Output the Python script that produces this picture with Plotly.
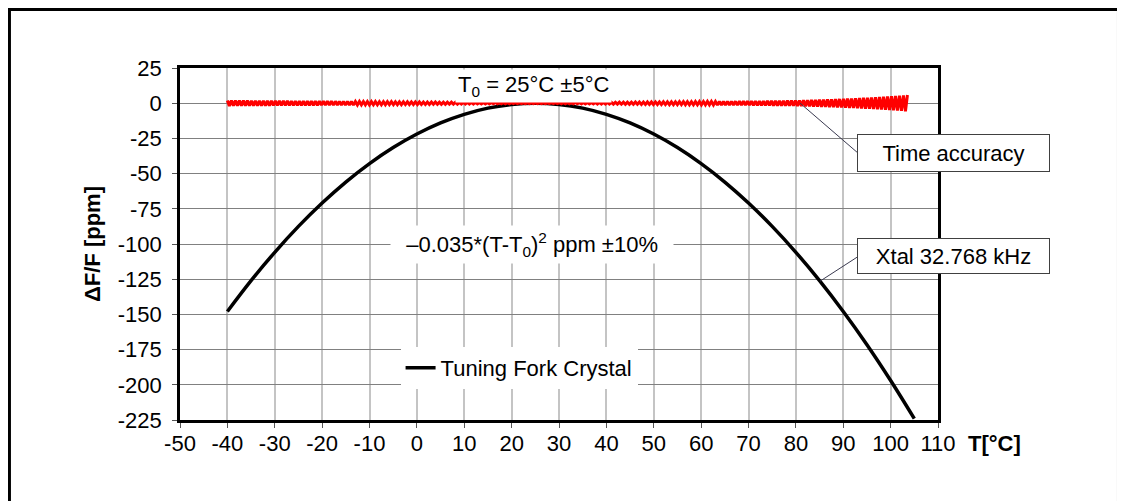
import numpy as np
import plotly.graph_objects as go

# ---------------- data ----------------
# Tuning fork crystal curve, T in °C, dF/F in ppm
curve_T = [-40, -35, -30, -25, -20, -15, -10, -5, 0, 5, 10, 15, 20, 25,
           30, 35, 40, 45, 50, 55, 60, 65, 70, 75, 80, 85, 90, 95, 100, 105]
curve_ppm = [-147.9, -126.0, -105.9, -87.5, -70.9, -56.0, -42.9, -31.5, -21.9, -14.0,
             -7.9, -3.5, -0.9, 0.0, -0.9, -3.5, -7.9, -14.0, -21.9, -31.5,
             -42.9, -56.0, -70.9, -87.5, -105.9, -126.0, -147.9, -171.5, -196.9, -224.0]

# Time-accuracy band (red zig-zag) : envelope amplitude
band_T = [-40, -20, 0, 20, 25, 30, 50, 70, 80, 85, 90, 95, 100, 103.5]
band_amp = [1.9, 1.4, 0.9, 0.35, 0.25, 0.35, 0.9, 1.4, 1.9, 2.5, 3.1, 3.9, 4.9, 5.8]
band_half_period = 0.4222   # °C between successive zig-zag extremes

x_tickvals = [-50, -40, -30, -20, -10, 0, 10, 20, 30, 40, 50, 60, 70, 80, 90, 100, 110]
x_ticktext = ["-50", "-40", "-30", "-20", "-10", "0", "10", "20", "30", "40",
              "50", "60", "70", "80", "90", "100", "110"]
y_tickvals = [25, 0, -25, -50, -75, -100, -125, -150, -175, -200, -225]
y_ticktext = ["25", "0", "-25", "-50", "-75", "-100", "-125", "-150", "-175", "-200", "-225"]

# ---------------- build zig-zag ----------------
n_pts = int(round((band_T[-1] - band_T[0]) / band_half_period)) + 1
zig_T = np.array([band_T[0] + k * band_half_period for k in range(n_pts)])
zig_amp = np.interp(zig_T, band_T, band_amp)
zig_sign = np.array([1 if k % 2 == 0 else -1 for k in range(n_pts)])
zig_ppm = zig_sign * zig_amp

FONT = "Liberation Sans, Arial, sans-serif"
FS = 22

fig = go.Figure()
fig.add_trace(go.Scatter(
    x=curve_T, y=curve_ppm, mode="lines", name="Tuning Fork Crystal",
    line=dict(color="black", width=3.5, shape="spline"), showlegend=True))
fig.add_trace(go.Scatter(
    x=zig_T, y=zig_ppm, mode="lines", name="Time accuracy",
    line=dict(color="#ff0000", width=3, simplify=False), showlegend=False))

# page body has an 8px margin, so the figure is 8px smaller and left/top margins shifted
fig.update_layout(
    width=1117, height=493,
    margin=dict(l=172, r=187, t=60, b=81, autoexpand=False),
    paper_bgcolor="white", plot_bgcolor="white",
    font=dict(family=FONT, size=FS, color="black"),
    legend=dict(x=0.291, y=0.1477, xanchor="left", yanchor="middle",
                bgcolor="white", borderwidth=0, font=dict(size=FS)),
)

fig.update_xaxes(
    range=[-50, 110], tickvals=x_tickvals, ticktext=x_ticktext,
    showgrid=True, gridcolor="#c4c4c4", gridwidth=1.5,
    showline=True, linecolor="black", linewidth=2.5, mirror=True,
    ticks="outside", ticklen=5, tickcolor="#555555", tickwidth=1,
    zeroline=False, tickfont=dict(size=FS), ticklabelstandoff=-3,
)
fig.update_yaxes(
    range=[-225, 25], tickvals=y_tickvals, ticktext=y_ticktext,
    showgrid=True, gridcolor="#808080", gridwidth=1,
    showline=True, linecolor="black", linewidth=2.5, mirror=True,
    ticks="outside", ticklen=5, tickcolor="#555555", tickwidth=1,
    zeroline=False, tickfont=dict(size=FS), ticklabelstandoff=6,
    title=dict(text="ΔF/F [ppm]", font=dict(size=FS, weight="bold"), standoff=12),
)

# outer frame
fig.add_shape(type="rect", xref="paper", yref="paper",
              x0=-0.225, x1=1.2381, y0=-0.30, y1=1.1662,
              line=dict(color="black", width=3), fillcolor="rgba(0,0,0,0)", layer="above")

# leader lines
fig.add_shape(type="line", xref="x", yref="y", x0=80.9, y0=0.0, x1=92.9, y1=-34.8,
              line=dict(color="#3a3a50", width=1), layer="above")
fig.add_shape(type="line", xref="x", yref="y", x0=85.1, y0=-126.4, x1=92.9, y1=-109.4,
              line=dict(color="#3a3a50", width=1), layer="above")

# annotations
fig.add_annotation(x=24.7, y=12, xref="x", yref="y", showarrow=False,
                   xanchor="center", yanchor="middle",
                   text="T<sub>0</sub> = 25°C ±5°C", bgcolor="white", borderpad=2,
                   font=dict(size=FS))
fig.add_annotation(x=24.4, y=-100.5, xref="x", yref="y", showarrow=False,
                   xanchor="center", yanchor="middle",
                   text="&nbsp;&nbsp;–0.035*(T-T<sub>0</sub>)<sup>2</sup> ppm ±10%&nbsp;&nbsp;",
                   bgcolor="white", borderpad=3, font=dict(size=FS))
fig.add_annotation(x=1.0204, y=0.7585, xref="paper", yref="paper", showarrow=False,
                   xanchor="center", yanchor="middle",
                   text="Time accuracy", bgcolor="white", bordercolor="#404040",
                   borderwidth=1, borderpad=1, width=189, height=34, font=dict(size=FS))
fig.add_annotation(x=1.0204, y=0.466, xref="paper", yref="paper", showarrow=False,
                   xanchor="center", yanchor="middle",
                   text="Xtal 32.768 kHz", bgcolor="white", bordercolor="#404040",
                   borderwidth=1, borderpad=1, width=189, height=32, font=dict(size=FS))
fig.add_annotation(x=1.074, y=-0.0676, xref="paper", yref="paper", showarrow=False,
                   xanchor="center", yanchor="middle",
                   text="<b>T[°C]</b>", font=dict(size=FS))

fig.write_html("out.html")
